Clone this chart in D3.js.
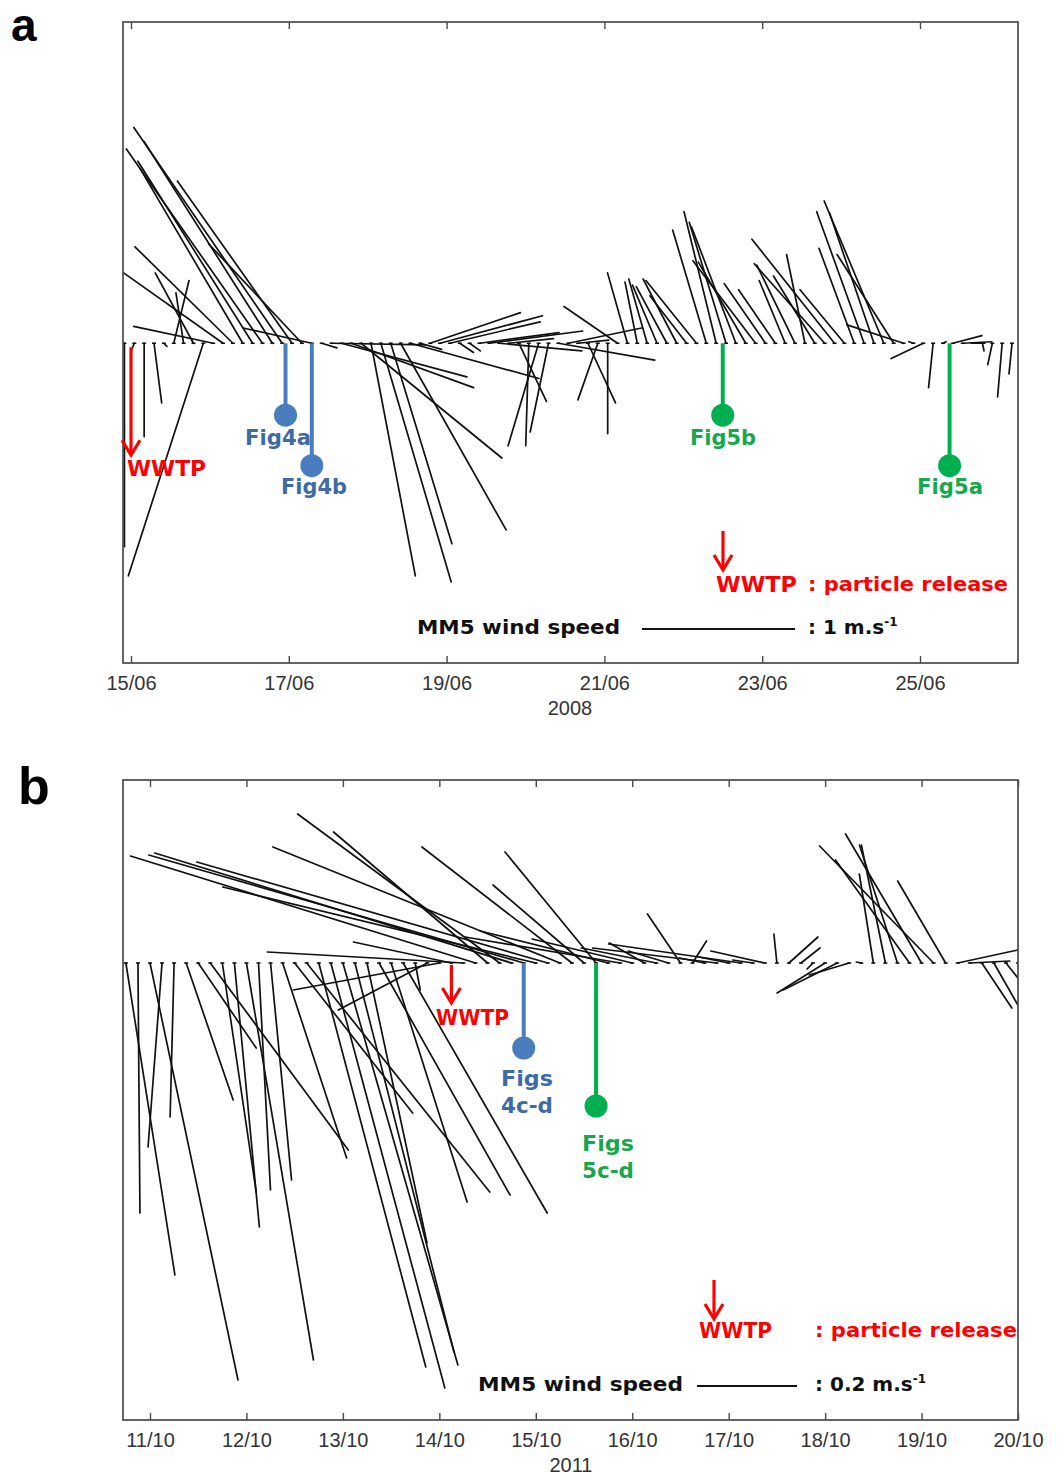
<!DOCTYPE html>
<html>
<head>
<meta charset="utf-8">
<script src="https://cdn.jsdelivr.net/npm/d3@7"></script>
<style>
  body { margin: 0; background: #fff; }
  svg { display: block; }
</style>
</head>
<body>
<svg id="chart" width="1060" height="1477"></svg>
<script>
// ---------------------------------------------------------------
// MM5 wind, 3-hourly records, eastward (u) and northward (v) in m/s
// ---------------------------------------------------------------

// June 2008 event: first record 14/06 22:00 UTC
const startA = "2008-06-14T22:00";
const uA = [
  0.00,-0.02, 0.00, 0.05, 0.02, 0.10,-0.05,-0.25,-0.49,-0.52,
 -0.65,-0.64,-0.67,-0.75,-0.89,-0.84,-0.97,-0.75,-0.61,-0.45,
  0.10, 0.62, 0.82, 0.80, 0.92, 0.29, 0.46, 0.40, 0.69, 0.84,
  0.14, 0.59, 0.67, 0.59, 0.09, 0.07, 0.52, 0.61, 0.54, 0.29,
  0.18,-0.02,-0.20,-0.12, 0.63, 0.48, 0.20, 0.18,-0.13, 0.00,
 -0.35,-0.13,-0.08,-0.12,-0.16,-0.20,-0.22,-0.24,-0.33,-0.22,
 -0.21,-0.24,-0.29,-0.31,-0.41,-0.27,-0.24,-0.17,-0.25,-0.12,
 -0.27,-0.46,-0.54,-0.29,-0.23,-0.31,-0.29,-0.39,-0.37,-0.37,
 -0.03,-0.21,-0.03, 0.02, 0.19, 0.19, 0.08, 0.01,-0.03,-0.03,
 -0.02
];
const vA = [
 -1.33,-0.05,-0.61,-0.39,-0.02, 0.41, 0.33, 0.46,-1.52, 0.11,
  0.46, 0.63, 1.14, 1.19, 1.27, 1.32, 1.41, 1.06, 0.65, 0.10,
 -0.03,-0.01,-0.22,-0.29,-0.75,-1.52,-1.56,-1.31,-1.22,-0.23,
 -0.04, 0.20, 0.18, 0.14,-0.06,-0.05, 0.07, 0.08,-0.05, 0.03,
 -0.38,-0.67,-0.67,-0.58,-0.11, 0.10, 0.02,-0.39,-0.37,-0.59,
  0.24, 0.46, 0.40, 0.42, 0.38, 0.37, 0.42, 0.31, 0.41, 0.74,
  0.86, 0.79, 0.76, 0.53, 0.54, 0.39, 0.35, 0.41, 0.51, 0.58,
  0.44, 0.52, 0.68, 0.35, 0.62, 0.86, 0.85, 0.93, 0.58, 0.12,
  0.01,-0.10,-0.29, 0.01, 0.05, 0.01, 0.00,-0.05,-0.14,-0.35,
 -0.20
];
const tickDatesA = ["2008-06-15", "2008-06-17", "2008-06-19", "2008-06-21", "2008-06-23", "2008-06-25"];

// October 2011 event: first record 10/10 18:00 UTC
const startB = "2011-10-10T18:00";
const uB = [
  0.098, 0.004, 0.176,-0.028,-0.008, 0.094, 0.116, 0.276, 0.068, 0.050,
  0.134, 0.024, 0.042, 0.128, 0.236, 0.366, 0.214, 0.228, 0.230, 0.198,
  0.120, 0.262, 0.152, 0.288, 0.010,-0.178,-0.292,-0.196,-0.392,-0.690,
 -0.308,-0.404,-0.714,-0.750,-0.626,-0.702,-0.574,-0.300,-0.182,-0.182,
 -0.256,-0.310,-0.200,-0.070,-0.150,-0.080,-0.066, 0.028,-0.050,-0.248,
 -0.060,-0.264,-0.040,-0.108,-0.006, 0.058, 0.038,-0.012,-0.096,-0.108,
 -0.080,-0.010,-0.028,-0.048,-0.076,-0.148,-0.152,-0.228,-0.096, 0.120,
  0.080, 0.060, 0.080, 0.040, 0.010
];
const vB = [
 -0.624,-0.500,-0.834,-0.368,-0.308,-0.274,-0.170,-0.374,-0.460,-0.528,
 -0.794,-0.454,-0.434,-0.390,-0.300,-0.458,-0.808,-0.850,-0.804,-0.778,
 -0.560,-0.464,-0.478,-0.500,-0.054,-0.094,-0.054, 0.042, 0.022, 0.214,
  0.262, 0.298, 0.220, 0.216, 0.152, 0.202, 0.232, 0.232, 0.156, 0.222,
  0.064, 0.052, 0.048, 0.040, 0.030, 0.024, 0.098, 0.044, 0.010, 0.030,
  0.012, 0.038, 0.006, 0.024, 0.058, 0.052, 0.030,-0.012,-0.060,-0.054,
 -0.024, 0.002, 0.178, 0.236, 0.236, 0.206, 0.258, 0.234, 0.164, 0.026,
  0.004,-0.090,-0.140,-0.050,-0.006
];
const tickDatesB = ["2011-10-11", "2011-10-12", "2011-10-13", "2011-10-14", "2011-10-15",
                    "2011-10-16", "2011-10-17", "2011-10-18", "2011-10-19", "2011-10-20"];

// particle-release times and snapshot times referenced in the text
const releaseA = "2008-06-15T00:00";
const marksA = [
  { time: "2008-06-16T23:00", depth: -0.47, label: ["Fig4a"], kind: "blue",  lx: 278, ly: 445 },
  { time: "2008-06-17T07:00", depth: -0.80, label: ["Fig4b"], kind: "blue",  lx: 314, ly: 494 },
  { time: "2008-06-22T12:00", depth: -0.47, label: ["Fig5b"], kind: "green", lx: 723, ly: 445 },
  { time: "2008-06-25T09:00", depth: -0.80, label: ["Fig5a"], kind: "green", lx: 950, ly: 494 }
];
const releaseB = "2011-10-14T03:00";
const marksB = [
  { time: "2011-10-14T21:00", depth: -0.170, label: ["Figs", "4c-d"], kind: "blue",  lx: 527, ly: 1086 },
  { time: "2011-10-15T15:00", depth: -0.286, label: ["Figs", "5c-d"], kind: "green", lx: 608, ly: 1151 }
];

// ---------------------------------------------------------------
const svg = d3.select("#chart");
const parseT = d3.utcParse("%Y-%m-%dT%H:%M");
const parseD = d3.utcParse("%Y-%m-%d");
const fmtTick = d3.utcFormat("%d/%m");

const COLORS = {
  blue: "#4a7dbd", blueText: "#3e6aa6",
  green: "#00b050", greenText: "#16a84c",
  red: "#ff0000", ink: "#111", frame: "#4a4a4a"
};
const BOLD = "'DejaVu Sans', Verdana, sans-serif";
const PLAIN = "'Liberation Sans', Arial, sans-serif";

function redArrow(g, x, y1, y2) {
  g.append("line").attr("x1", x).attr("x2", x).attr("y1", y1).attr("y2", y2 - 1)
    .attr("stroke", COLORS.red).attr("stroke-width", 3.2);
  g.append("polyline")
    .attr("points", `${x - 9},${y2 - 15} ${x},${y2} ${x + 9},${y2 - 15}`)
    .attr("fill", "none").attr("stroke", COLORS.red).attr("stroke-width", 3.2)
    .attr("stroke-linejoin", "miter");
}

function boldText(g, x, y, str, size, color, width, anchor) {
  const t = g.append("text").attr("x", x).attr("y", y)
    .attr("font-family", BOLD).attr("font-weight", "bold")
    .attr("font-size", size).attr("fill", color)
    .attr("text-anchor", anchor || "start").text(str);
  if (width) t.attr("textLength", width).attr("lengthAdjust", "spacingAndGlyphs");
  return t;
}

function drawPanel(cfg) {
  const g = svg.append("g");
  const x = d3.scaleUtc().domain(cfg.xDomain).range(cfg.xRange);
  const y = d3.scaleLinear().domain(cfg.vDomain).range([cfg.bottom, cfg.top]);
  const y0 = y(0);
  // horizontal pixels per m/s, equal to the vertical one
  const kx = v => y0 - y(v);

  const t0 = parseT(cfg.start);
  const recs = cfg.u.map((u, i) => ({
    t: d3.utcHour.offset(t0, 3 * i), u, v: cfg.v[i]
  }));

  const clipId = "clip-" + cfg.id;
  g.append("clipPath").attr("id", clipId).append("rect")
    .attr("x", cfg.left).attr("y", cfg.top)
    .attr("width", cfg.right - cfg.left).attr("height", cfg.bottom - cfg.top);

  const sticks = g.append("g").attr("clip-path", `url(#${clipId})`);
  // little base marks along the zero line
  sticks.selectAll("line.base").data(recs).join("line").attr("class", "base")
    .attr("x1", d => x(d.t) - 2).attr("x2", d => x(d.t) + 2)
    .attr("y1", y0).attr("y2", y0)
    .attr("stroke", COLORS.ink).attr("stroke-width", 1.5);
  sticks.selectAll("line.stick").data(recs).join("line").attr("class", "stick")
    .attr("x1", d => x(d.t)).attr("y1", y0)
    .attr("x2", d => x(d.t) + kx(d.u)).attr("y2", d => y(d.v))
    .attr("stroke", COLORS.ink).attr("stroke-width", 1.7)
    .attr("stroke-linecap", "round");

  // frame
  g.append("rect").attr("x", cfg.left).attr("y", cfg.top)
    .attr("width", cfg.right - cfg.left).attr("height", cfg.bottom - cfg.top)
    .attr("fill", "none").attr("stroke", COLORS.frame).attr("stroke-width", 1.7);

  const ticks = cfg.ticks.map(parseD);
  const axB = g.append("g").attr("transform", `translate(0,${cfg.bottom})`)
    .call(d3.axisBottom(x).tickValues(ticks).tickFormat(fmtTick)
      .tickSizeInner(-7).tickSizeOuter(0).tickPadding(13));
  const axT = g.append("g").attr("transform", `translate(0,${cfg.top})`)
    .call(d3.axisTop(x).tickValues(ticks).tickFormat("")
      .tickSizeInner(-7).tickSizeOuter(0));
  [axB, axT].forEach(a => {
    a.select(".domain").remove();
    a.selectAll(".tick line").attr("stroke", COLORS.frame).attr("stroke-width", 1.4);
  });
  axB.selectAll(".tick text").attr("font-family", PLAIN).attr("font-size", 20)
    .attr("fill", "#333");
  g.append("text").attr("x", cfg.yearX).attr("y", cfg.bottom + 52)
    .attr("text-anchor", "middle").attr("font-family", PLAIN).attr("font-size", 20)
    .attr("fill", "#333").text(cfg.year);

  // particle release arrow at the WWTP
  const xr = x(parseT(cfg.release));
  redArrow(g, xr, y0 + cfg.releaseArrow[0], y0 + cfg.releaseArrow[1]);
  boldText(g, cfg.releaseLabel[0], cfg.releaseLabel[1], "WWTP", 21, COLORS.red, cfg.releaseLabel[2]);

  // snapshot markers
  cfg.marks.forEach(m => {
    const xm = x(parseT(m.time));
    const col = m.kind === "blue" ? COLORS.blue : COLORS.green;
    const tcol = m.kind === "blue" ? COLORS.blueText : COLORS.greenText;
    const ym = y(m.depth);
    g.append("line").attr("x1", xm).attr("x2", xm).attr("y1", y0).attr("y2", ym)
      .attr("stroke", col).attr("stroke-width", 4);
    g.append("circle").attr("cx", xm).attr("cy", ym).attr("r", 11.5).attr("fill", col);
    m.label.forEach((s, i) => {
      boldText(g, m.lx, m.ly + i * 27, s, 21, tcol,
        m.label.length > 1 ? 52 : 66, "middle");
    });
  });

  // legend
  const L = cfg.legend;
  redArrow(g, L.arrowX, L.arrowY, L.arrowY + 39);
  boldText(g, L.wwtpX, L.row1, "WWTP", 21, COLORS.red, L.wwtpW);
  boldText(g, L.relX, L.row1 - 1, ": particle release", 20, COLORS.red, L.relW);
  boldText(g, L.mm5X, L.row2, "MM5 wind speed", 20, COLORS.ink, L.mm5W);
  g.append("line").attr("x1", L.barX).attr("x2", L.barX + kx(L.barValue))
    .attr("y1", L.row2 - 5).attr("y2", L.row2 - 5)
    .attr("stroke", COLORS.ink).attr("stroke-width", 1.8);
  const unit = boldText(g, L.unitX, L.row2, `: ${L.barValue} m.s`, 20, COLORS.ink);
  unit.append("tspan").attr("dy", -8).attr("font-size", 12).text("-1");

  // panel letter
  g.append("text").attr("x", cfg.letter[0]).attr("y", cfg.letter[1])
    .attr("font-family", PLAIN).attr("font-weight", "bold").attr("font-size", cfg.letter[2])
    .attr("fill", "#000").text(cfg.id);
}

drawPanel({
  id: "a",
  start: startA, u: uA, v: vA, ticks: tickDatesA,
  xDomain: [parseD("2008-06-15"), parseD("2008-06-25")], xRange: [131, 920],
  vDomain: [-2.09, 2.10],
  left: 123, right: 1018, top: 22, bottom: 663,
  year: "2008", yearX: 570,
  release: releaseA, releaseArrow: [4, 112], releaseLabel: [127, 476, 79],
  marks: marksA,
  legend: { arrowX: 723, arrowY: 531, wwtpX: 716, wwtpW: 81, relX: 808, relW: 200,
            row1: 592, mm5X: 417, mm5W: 203, row2: 634, barX: 642, barValue: 1, unitX: 808 },
  letter: [11, 41, 46]
});

drawPanel({
  id: "b",
  start: startB, u: uB, v: vB, ticks: tickDatesB,
  xDomain: [parseD("2011-10-11"), parseD("2011-10-20")], xRange: [150, 1018],
  vDomain: [-0.914, 0.366],
  left: 123, right: 1018, top: 780, bottom: 1420,
  year: "2011", yearX: 571,
  release: releaseB, releaseArrow: [2, 40], releaseLabel: [436, 1025, 73],
  marks: marksB,
  legend: { arrowX: 714, arrowY: 1280, wwtpX: 699, wwtpW: 73, relX: 815, relW: 202,
            row1: 1338, mm5X: 478, mm5W: 205, row2: 1391, barX: 697, barValue: 0.2, unitX: 815 },
  letter: [18, 804, 52]
});
</script>
</body>
</html>
